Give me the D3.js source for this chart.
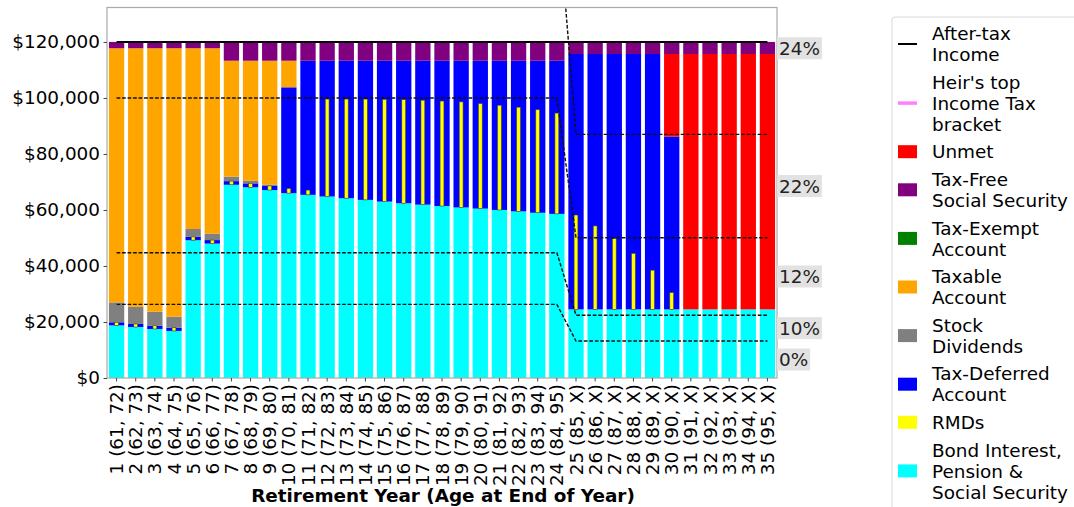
<!DOCTYPE html>
<html>
<head>
<meta charset="utf-8">
<script src="https://cdn.jsdelivr.net/npm/d3@7"></script>
<style>
  html, body { margin: 0; padding: 0; background: #fff; }
  svg { display: block; font-family: "DejaVu Sans", sans-serif; }
</style>
</head>
<body>
<svg id="chart" width="1074" height="507"></svg>
<script>
// ---------------- DATA ----------------
const categories = [
  "1 (61, 72)", "2 (62, 73)", "3 (63, 74)", "4 (64, 75)", "5 (65, 76)", "6 (66, 77)",
  "7 (67, 78)", "8 (68, 79)", "9 (69, 80)", "10 (70, 81)", "11 (71, 82)", "12 (72, 83)",
  "13 (73, 84)", "14 (74, 85)", "15 (75, 86)", "16 (76, 87)", "17 (77, 88)", "18 (78, 89)",
  "19 (79, 90)", "20 (80, 91)", "21 (81, 92)", "22 (82, 93)", "23 (83, 94)", "24 (84, 95)",
  "25 (85, X)", "26 (86, X)", "27 (87, X)", "28 (88, X)", "29 (89, X)", "30 (90, X)",
  "31 (91, X)", "32 (92, X)", "33 (93, X)", "34 (94, X)", "35 (95, X)"
];

const bondPensionSS = [18800, 18200, 17500, 16800, 49200, 48000, 69000, 68100, 67100, 66000,
  65400, 64800, 64200, 63600, 63000, 62400, 61900, 61400, 60900, 60500, 60000, 59500, 59000, 58600,
  24500, 24500, 24500, 24500, 24500, 24500, 24500, 24500, 24500, 24500, 24500];
const taxDeferred = [1100, 1100, 1150, 1200, 1200, 1250, 1300, 1400, 1500, 37800,
  47900, 48500, 49100, 49700, 50300, 50900, 51400, 51900, 52400, 52800, 53300, 53800, 54300, 54700,
  91200, 91200, 91200, 91200, 91200, 61700, 0, 0, 0, 0, 0];
const stockDividends = [7100, 6100, 5000, 3900, 2800, 2300, 1600, 900, 500, 0,
  0, 0, 0, 0, 0, 0, 0, 0, 0, 0, 0, 0, 0, 0, 0, 0, 0, 0, 0, 0, 0, 0, 0, 0, 0];
const taxableAccount = [90750, 92350, 94100, 95850, 64550, 66200, 41400, 42900, 44200, 9500,
  0, 0, 0, 0, 0, 0, 0, 0, 0, 0, 0, 0, 0, 0, 0, 0, 0, 0, 0, 0, 0, 0, 0, 0, 0];
const taxExempt = [0, 0, 0, 0, 0, 0, 0, 0, 0, 0, 0, 0, 0, 0, 0, 0, 0, 0, 0, 0,
  0, 0, 0, 0, 0, 0, 0, 0, 0, 0, 0, 0, 0, 0, 0];
const unmet = [0, 0, 0, 0, 0, 0, 0, 0, 0, 0, 0, 0, 0, 0, 0, 0, 0, 0, 0, 0,
  0, 0, 0, 0, 0, 0, 0, 0, 0, 29500, 91200, 91200, 91200, 91200, 91200];
const taxFreeSS = [2250, 2250, 2250, 2250, 2250, 2250, 6700, 6700, 6700, 6700,
  6700, 6700, 6700, 6700, 6700, 6700, 6700, 6700, 6700, 6700, 6700, 6700, 6700, 6700,
  4300, 4300, 4300, 4300, 4300, 4300, 4300, 4300, 4300, 4300, 4300];
const rmds = [1100, 1100, 1150, 1200, 1200, 1250, 1300, 1400, 1500, 1700,
  1700, 34800, 35400, 36000, 36500, 37000, 37300, 37500, 37700, 37500, 37400, 37200, 36800, 36000,
  33700, 29800, 25300, 20000, 14000, 6000, 0, 0, 0, 0, 0];
const afterTaxIncome = [120000, 120000, 120000, 120000, 120000, 120000, 120000, 120000, 120000, 120000,
  120000, 120000, 120000, 120000, 120000, 120000, 120000, 120000, 120000, 120000,
  120000, 120000, 120000, 120000, 120000, 120000, 120000, 120000, 120000, 120000,
  120000, 120000, 120000, 120000, 120000];

// tax bracket upper limits (income thresholds)
const bracket0 = [26300, 26300, 26300, 26300, 26300, 26300, 26300, 26300, 26300, 26300, 26300, 26300,
  26300, 26300, 26300, 26300, 26300, 26300, 26300, 26300, 26300, 26300, 26300, 26300,
  13200, 13200, 13200, 13200, 13200, 13200, 13200, 13200, 13200, 13200, 13200];
const bracket10 = [44750, 44750, 44750, 44750, 44750, 44750, 44750, 44750, 44750, 44750, 44750, 44750,
  44750, 44750, 44750, 44750, 44750, 44750, 44750, 44750, 44750, 44750, 44750, 44750,
  22400, 22400, 22400, 22400, 22400, 22400, 22400, 22400, 22400, 22400, 22400];
const bracket12 = [100000, 100000, 100000, 100000, 100000, 100000, 100000, 100000, 100000, 100000, 100000, 100000,
  100000, 100000, 100000, 100000, 100000, 100000, 100000, 100000, 100000, 100000, 100000, 100000,
  50100, 50100, 50100, 50100, 50100, 50100, 50100, 50100, 50100, 50100, 50100];
const bracket22 = [171000, 171000, 171000, 171000, 171000, 171000, 171000, 171000, 171000, 171000, 171000, 171000,
  171000, 171000, 171000, 171000, 171000, 171000, 171000, 171000, 171000, 171000, 171000, 171000,
  87000, 87000, 87000, 87000, 87000, 87000, 87000, 87000, 87000, 87000, 87000];

const rateLabels = ["0%", "10%", "12%", "22%", "24%"];
const rateLabelValues = [6600, 17800, 36250, 68550, 117750];

const yTicks = [0, 20000, 40000, 60000, 80000, 100000, 120000];
const yMax = 132300;

const seriesNames = ["Bond Interest, Pension & Social Security", "Tax-Deferred Account", "Stock Dividends",
  "Taxable Account", "Tax-Exempt Account", "Unmet", "Tax-Free Social Security"];
const seriesColors = ["#00ffff", "#0000ff", "#808080", "#ffa500", "#008000", "#ff0000", "#800080"];
const seriesValues = [bondPensionSS, taxDeferred, stockDividends, taxableAccount, taxExempt, unmet, taxFreeSS];

const legendItems = [
  { type: "line", color: "#000000", width: 2, lines: ["After-tax", "Income"] },
  { type: "line", color: "#ff80ff", width: 3.5, lines: ["Heir's top", "Income Tax", "bracket"] },
  { type: "rect", color: "#ff0000", lines: ["Unmet"] },
  { type: "rect", color: "#800080", lines: ["Tax-Free", "Social Security"] },
  { type: "rect", color: "#008000", lines: ["Tax-Exempt", "Account"] },
  { type: "rect", color: "#ffa500", lines: ["Taxable", "Account"] },
  { type: "rect", color: "#808080", lines: ["Stock", "Dividends"] },
  { type: "rect", color: "#0000ff", lines: ["Tax-Deferred", "Account"] },
  { type: "rect", color: "#ffff00", lines: ["RMDs"] },
  { type: "rect", color: "#00ffff", lines: ["Bond Interest,", "Pension &", "Social Security"] }
];

// ---------------- LAYOUT ----------------
const FS = 18.4;
const plot = { left: 107, right: 777, top: 7.5, bottom: 378 };
const svg = d3.select("#chart");

const x = d3.scaleBand().domain(d3.range(categories.length))
  .range([plot.left, plot.right]).paddingInner(0.2).paddingOuter(0.1);
const y = d3.scaleLinear().domain([0, yMax]).range([plot.bottom, plot.top]);

svg.append("defs").append("clipPath").attr("id", "clip")
  .append("rect").attr("x", plot.left).attr("y", plot.top)
  .attr("width", plot.right - plot.left).attr("height", plot.bottom - plot.top);

// stacked data
const table = categories.map((c, i) => {
  const row = { i };
  seriesNames.forEach((n, k) => row[n] = seriesValues[k][i]);
  return row;
});
const stacked = d3.stack().keys(seriesNames)(table);

const gPlot = svg.append("g").attr("clip-path", "url(#clip)");

stacked.forEach((layer, k) => {
  gPlot.append("g").attr("fill", seriesColors[k])
    .selectAll("rect").data(layer).join("rect")
    .attr("x", (d, i) => x(i))
    .attr("width", x.bandwidth())
    .attr("y", d => y(d[1]))
    .attr("height", d => Math.max(0, y(d[0]) - y(d[1])));
});

// RMD narrow bars, starting at the base of the tax-deferred segment
const rmdW = x.step() * 0.2;
const deferredLayer = stacked[1];
gPlot.append("g").selectAll("rect").data(rmds).join("rect")
  .filter(d => d > 0)
  .attr("x", (d, i) => x(i) + x.bandwidth() / 2 - rmdW / 2)
  .attr("width", rmdW)
  .attr("y", (d, i) => y(deferredLayer[i][0] + d))
  .attr("height", (d, i) => y(deferredLayer[i][0]) - y(deferredLayer[i][0] + d))
  .attr("fill", "#ffff00")
  .attr("stroke", "#444")
  .attr("stroke-width", 0.6);

// bracket lines
const cx = i => x(i) + x.bandwidth() / 2;
const lineGen = d3.line().x((d, i) => cx(i)).y(d => y(d));
[bracket0, bracket10, bracket12, bracket22].forEach(arr => {
  gPlot.append("path").datum(arr).attr("d", lineGen)
    .attr("fill", "none").attr("stroke", "#111").attr("stroke-width", 1.4)
    .attr("stroke-dasharray", "3.7,1.8");
});

// after-tax income line
gPlot.append("path").datum(afterTaxIncome).attr("d", lineGen)
  .attr("fill", "none").attr("stroke", "#000").attr("stroke-width", 2);

// frame
svg.append("rect").attr("x", plot.left).attr("y", plot.top)
  .attr("width", plot.right - plot.left).attr("height", plot.bottom - plot.top)
  .attr("fill", "none").attr("stroke", "#aaaaaa").attr("stroke-width", 1.2);

// axes
const yAxis = svg.append("g").attr("transform", `translate(${plot.left},0)`)
  .call(d3.axisLeft(y).tickValues(yTicks).tickFormat(d => "$" + d3.format(",")(d))
    .tickSize(3.5).tickPadding(3.5));
yAxis.select(".domain").remove();
yAxis.selectAll("line").attr("stroke", "#444");
yAxis.selectAll("text").attr("font-size", FS).attr("fill", "#000")
  .attr("font-family", "DejaVu Sans");

const xAxis = svg.append("g").attr("transform", `translate(0,${plot.bottom})`)
  .call(d3.axisBottom(x).tickFormat(i => categories[i]).tickSize(3.5).tickPadding(3.5));
xAxis.select(".domain").remove();
xAxis.selectAll("line").attr("stroke", "#444");
xAxis.selectAll("text")
  .attr("font-size", FS).attr("fill", "#000").attr("font-family", "DejaVu Sans")
  .attr("transform", "rotate(-90)")
  .attr("text-anchor", "end")
  .attr("x", -6).attr("y", 0).attr("dy", "0.36em");

svg.append("text").attr("x", (plot.left + plot.right) / 2 + 1).attr("y", 502)
  .attr("text-anchor", "middle").attr("font-size", FS).attr("font-weight", "bold")
  .text("Retirement Year (Age at End of Year)");

// bracket rate labels
const gLab = svg.append("g");
rateLabels.forEach((t, k) => {
  const yy = y(rateLabelValues[k]);
  const g = gLab.append("g");
  const txt = g.append("text").attr("x", plot.right + 2).attr("y", yy).attr("dy", "0.36em")
    .attr("font-size", FS).attr("fill", "#222").text(t);
  const bb = txt.node().getBBox();
  g.insert("rect", "text").attr("x", plot.right).attr("y", yy - 11)
    .attr("width", bb.width + 4).attr("height", 22).attr("fill", "#e2e2e2");
});

// legend
const lg = svg.append("g");
lg.append("rect").attr("x", 892).attr("y", 17).attr("width", 200).attr("height", 520)
  .attr("rx", 3).attr("fill", "#fff").attr("stroke", "#d8d8d8");
const lineH = 21;
let cy = 33.5;
legendItems.forEach(item => {
  const n = item.lines.length;
  const mid = cy + (n - 1) * lineH / 2;
  if (item.type === "line") {
    lg.append("line").attr("x1", 898).attr("x2", 917).attr("y1", mid).attr("y2", mid)
      .attr("stroke", item.color).attr("stroke-width", item.width);
  } else {
    lg.append("rect").attr("x", 898).attr("y", mid - 6.5).attr("width", 19).attr("height", 13)
      .attr("fill", item.color);
  }
  item.lines.forEach((t, j) => {
    lg.append("text").attr("x", 932).attr("y", cy + j * lineH).attr("dy", "0.36em")
      .attr("font-size", FS).attr("fill", "#000").text(t);
  });
  cy += n * lineH + 6.6;
});
</script>
</body>
</html>
